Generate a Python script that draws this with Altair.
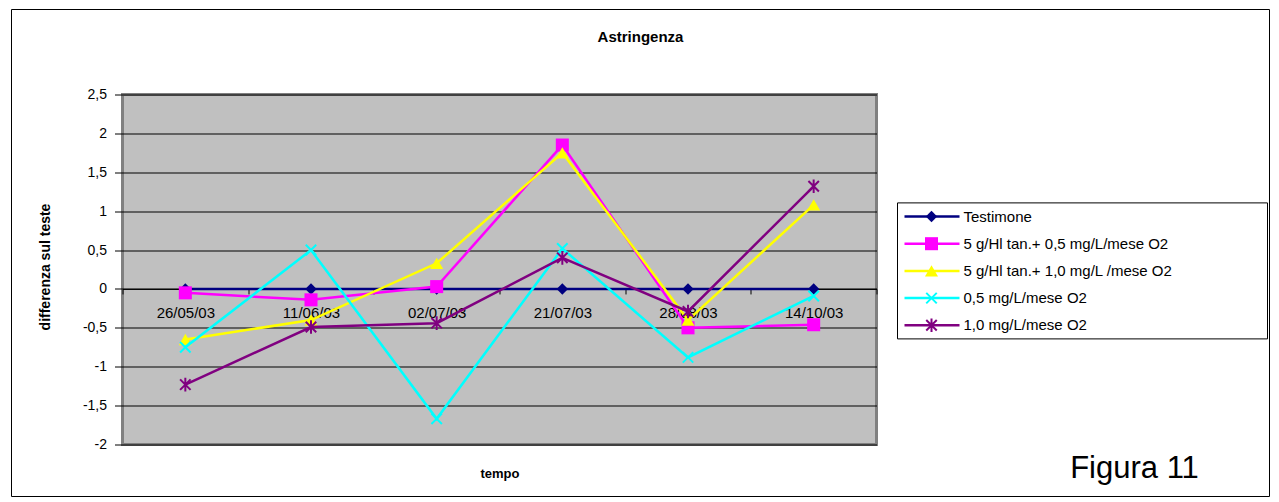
import altair as alt
import pandas as pd

# ---------------- data ----------------
dates = ["26/05/03", "11/06/03", "02/07/03", "21/07/03", "28/08/03", "14/10/03"]
series_names = [
    "Testimone",
    "5 g/Hl tan.+ 0,5 mg/L/mese O2",
    "5 g/Hl tan.+ 1,0 mg/L /mese O2",
    "0,5 mg/L/mese O2",
    "1,0 mg/L/mese O2",
]
testimone = [0, 0, 0, 0, 0, 0]
tan_05 = [-0.05, -0.14, 0.03, 1.85, -0.50, -0.46]
tan_10 = [-0.65, -0.40, 0.33, 1.75, -0.40, 1.08]
o2_05 = [-0.75, 0.50, -1.67, 0.52, -0.88, -0.09]
o2_10 = [-1.23, -0.49, -0.44, 0.40, -0.29, 1.32]
y_ticks = [-2, -1.5, -1, -0.5, 0, 0.5, 1, 1.5, 2, 2.5]

# ---------------- styles ----------------
FONT = "Liberation Sans"
colors = ["#000080", "#FF00FF", "#FFFF00", "#00FFFF", "#800080"]
X_PATH = "M-1,-1L1,1M-1,1L1,-1"
AST_PATH = "M-1,-1L1,1M-1,1L1,-1M0,-1.3L0,1.3"
shapes = ["diamond", "square", "triangle-up", X_PATH, AST_PATH]
filled = [True, True, True, False, False]
sizes = [130, 170, 170, 110, 110]

values_all = [testimone, tan_05, tan_10, o2_05, o2_10]
rows = []
for s, vals in zip(series_names, values_all):
    for d, v in zip(dates, vals):
        rows.append({"data": d, "serie": s, "valore": v})
df = pd.DataFrame(rows)

W, H = 754, 350
ymin, ymax = -2, 2.5
zero_offset = -H * (0 - ymin) / (ymax - ymin)

label_expr = "replace(replace(format(datum.value, '.1~f'), '.', ','), '\u2212', '-')"

x_enc = alt.X(
    "data:N",
    sort=dates,
    bandPosition=0.5,
    scale=alt.Scale(type="band", paddingInner=0, paddingOuter=0),
    axis=alt.Axis(
        title="tempo",
        orient="bottom",
        offset=zero_offset,
        labelAngle=0,
        labelFont=FONT,
        labelFontSize=15,
        labelColor="black",
        labelBaseline="alphabetic",
        labelPadding=24,
        tickBand="extent",
        tickColor="black",
        tickSize=5,
        domainColor="black",
        titleFont=FONT,
        titleFontSize=13,
        titleFontWeight="bold",
        titleColor="black",
        titleBaseline="alphabetic",
        titleY=189,
    ),
)
y_enc = alt.Y(
    "valore:Q",
    scale=alt.Scale(domain=[ymin, ymax], nice=False, zero=False),
    axis=alt.Axis(
        title="differenza sul teste",
        values=y_ticks,
        labelExpr=label_expr,
        labelFont=FONT,
        labelFontSize=14,
        labelColor="black",
        labelPadding=8,
        tickColor="black",
        tickSize=8,
        domain=False,
        grid=True,
        gridColor="black",
        gridWidth=1,
        gridOpacity=1,
        titleFont=FONT,
        titleFontSize=14,
        titleFontWeight="bold",
        titleColor="black",
        titleAngle=-90,
        titleBaseline="middle",
        titleX=-77,
        titleY=172,
    ),
)

layers = []
for s, c, shp, f, sz in zip(series_names, colors, shapes, filled, sizes):
    base = alt.Chart(df).transform_filter(alt.datum.serie == s)
    layers.append(base.mark_line(color=c, strokeWidth=2.5).encode(x=x_enc, y=y_enc))
    layers.append(
        base.mark_point(
            shape=shp, filled=f, color=c, size=sz, opacity=1,
            strokeWidth=2 if not f else 0,
        ).encode(x=x_enc, y=y_enc)
    )

one = pd.DataFrame({"k": [0]})
frame = alt.Chart(one).mark_rect(fillOpacity=0, stroke="black", strokeWidth=1).encode(
    x=alt.value(-111), x2=alt.value(1147), y=alt.value(-85), y2=alt.value(402)
)
title = alt.Chart(one).mark_text(
    text="Astringenza", font=FONT, fontSize=15, fontWeight="bold", color="black",
    align="center", baseline="middle",
).encode(x=alt.value(518), y=alt.value(-58))
figura = alt.Chart(one).mark_text(
    text="Figura 11", font=FONT, fontSize=31, color="black",
    align="center", baseline="alphabetic",
).encode(x=alt.value(1012), y=alt.value(383))

main = alt.layer(frame, *layers, title, figura).properties(
    width=W, height=H,
    view=alt.ViewBackground(fill="#C0C0C0", stroke="#808080", strokeWidth=3),
)

# ---------------- legend panel ----------------
first_px, step_px = 122, 27.2
leg_scale = alt.Scale(domain=[-first_px / step_px, (H - first_px) / step_px], reverse=True, nice=False, zero=False)
leg_df = pd.DataFrame({"serie": series_names, "idx": list(range(len(series_names)))})
box_df = pd.DataFrame({"top": [-0.5], "bot": [len(series_names) - 0.5]})

LW = 370
leg_layers = [
    alt.Chart(box_df).mark_rect(fill="white", stroke="black", strokeWidth=1).encode(
        x=alt.value(0), x2=alt.value(LW),
        y=alt.Y("top:Q", scale=leg_scale, axis=None), y2="bot:Q",
    )
]
for i, (s, c, shp, f, sz) in enumerate(zip(series_names, colors, shapes, filled, sizes)):
    b = alt.Chart(leg_df).transform_filter(alt.datum.idx == i)
    leg_layers.append(b.mark_rule(color=c, strokeWidth=2.5).encode(
        x=alt.value(7), x2=alt.value(62), y=alt.Y("idx:Q", scale=leg_scale, axis=None)))
    leg_layers.append(b.mark_point(
        shape=shp, filled=f, color=c, size=sz, opacity=1, strokeWidth=2 if not f else 0,
    ).encode(x=alt.value(34), y=alt.Y("idx:Q", scale=leg_scale, axis=None)))
    leg_layers.append(b.mark_text(
        font=FONT, fontSize=15, color="black", align="left", baseline="middle",
    ).encode(x=alt.value(66), y=alt.Y("idx:Q", scale=leg_scale, axis=None), text="serie:N"))

legend = alt.layer(*leg_layers).properties(
    width=LW, height=H,
    view=alt.ViewBackground(fill="transparent", stroke="transparent"),
)

chart = alt.hconcat(main, legend, spacing=21, bounds="flush").properties(
    padding={"left": 9.5, "top": 7.5, "right": 5, "bottom": 5},
    background="white",
).configure_view(stroke="transparent")

chart.save("out.html", embed_options={"renderer": "svg", "actions": False})
